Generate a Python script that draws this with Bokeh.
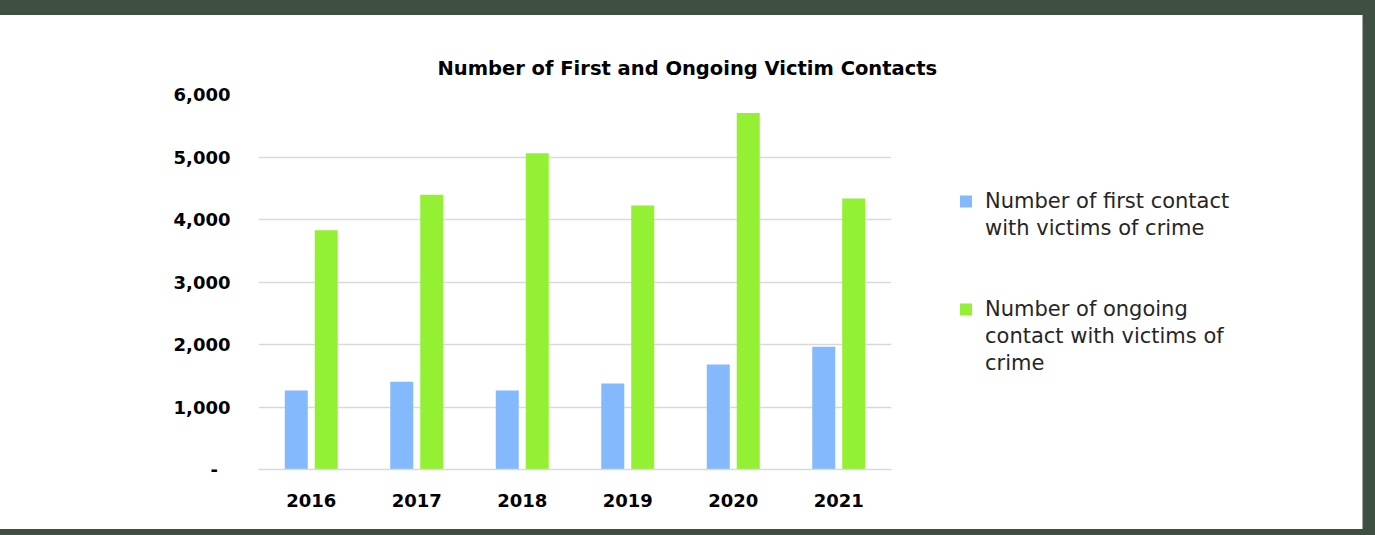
from bokeh.plotting import figure
from bokeh.models import (FactorRange, Range1d, FixedTicker, NumeralTickFormatter,
                          Legend, LegendItem, Spacer, ColumnDataSource)
from bokeh.transform import dodge
from bokeh.layouts import column
from bokeh.embed import file_html
from bokeh.resources import INLINE

# ---- data ----
years = ["2016", "2017", "2018", "2019", "2020", "2021"]
first_contact = [1265, 1405, 1265, 1375, 1680, 1965]
ongoing_contact = [3830, 4395, 5060, 4225, 5705, 4335]
y_ticks = [0, 1000, 2000, 3000, 4000, 5000, 6000]
first_label_lines = ["Number of first contact", "with victims of crime"]
ongoing_label_lines = ["Number of ongoing", "contact with victims of", "crime"]
title_text = "Number of First and Ongoing Victim Contacts"

BLUE = "#84B9FD"
GREEN = "#93F032"
GRID = "#D9D9D9"
BAND = "#3F4F41"
FONT = "DejaVu Sans"

src = ColumnDataSource(dict(year=years, first=first_contact, ongoing=ongoing_contact))

p = figure(x_range=FactorRange(factors=years, range_padding=0),
           y_range=Range1d(0, 6000),
           frame_width=633, frame_height=375,
           output_backend="svg", toolbar_location=None,
           min_border_left=258, min_border_right=471,
           min_border_top=79, min_border_bottom=60,
           title=title_text)

p.background_fill_color = "white"
p.border_fill_alpha = 0
p.outline_line_color = None
# white chart area, dark frame band on the right beyond x=1362
p.styles = {"background": "linear-gradient(to right, #FFFFFF 0px, #FFFFFF 1362px, #A0A8A0 1362px, #A0A8A0 1363px, "
                          + BAND + " 1363px, " + BAND + " 100%)"}

r1 = p.vbar(x=dodge("year", -0.142, range=p.x_range), top="first", width=0.218,
            source=src, fill_color=BLUE, line_color=None)
r2 = p.vbar(x=dodge("year", 0.142, range=p.x_range), top="ongoing", width=0.218,
            source=src, fill_color=GREEN, line_color=None)
blank = p.vbar(x=[], top=[], width=0.1, fill_alpha=0, line_alpha=0)

# title
p.title.text_font = FONT
p.title.text_font_size = "19.5px"
p.title.text_font_style = "bold"
p.title.text_color = "black"
p.title.align = "left"
p.title.offset = 179
p.title.standoff = 30

# axes
xa = p.xaxis[0]
xa.major_label_text_font = FONT
xa.major_label_text_font_size = "18px"
xa.major_label_text_font_style = "bold"
xa.major_label_text_color = "black"
xa.axis_line_color = GRID
xa.axis_line_width = 1.5
xa.major_tick_line_color = None
xa.minor_tick_line_color = None
xa.major_label_standoff = 18

ya = p.yaxis[0]
ya.ticker = FixedTicker(ticks=y_ticks)
ya.formatter = NumeralTickFormatter(format="0,0")
ya.major_label_overrides = {0: "-\u00a0\u00a0"}
ya.major_label_text_font = FONT
ya.major_label_text_font_size = "18px"
ya.major_label_text_font_style = "bold"
ya.major_label_text_color = "black"
ya.axis_line_color = None
ya.major_tick_line_color = None
ya.minor_tick_line_color = None
ya.major_label_standoff = 22

p.ygrid.ticker = FixedTicker(ticks=y_ticks)
p.ygrid.grid_line_color = GRID
p.ygrid.grid_line_width = 1.5
p.xgrid.grid_line_color = None

# legend: one block, continuation lines carry an invisible glyph
items = [
    LegendItem(label=first_label_lines[0], renderers=[r1]),
    LegendItem(label=first_label_lines[1], renderers=[blank]),
    LegendItem(label="\u00a0", renderers=[blank]),
    LegendItem(label="\u00a0", renderers=[blank]),
    LegendItem(label=ongoing_label_lines[0], renderers=[r2]),
    LegendItem(label=ongoing_label_lines[1], renderers=[blank]),
    LegendItem(label=ongoing_label_lines[2], renderers=[blank]),
]
leg = Legend(items=items, location="left",
             label_text_font=FONT, label_text_font_size="21px",
             label_text_color="#262626",
             glyph_width=15, glyph_height=15, label_standoff=12,
             label_height=27, spacing=0, padding=0, margin=67,
             border_line_alpha=0, background_fill_alpha=0)
p.add_layout(leg, "right")

top_band = Spacer(width=1375, height=15, styles={"background-color": BAND})
bottom_band = Spacer(width=1375, height=6, styles={"background-color": BAND})

layout = column(top_band, p, bottom_band)

open("out.html", "w").write(file_html(layout, INLINE))
